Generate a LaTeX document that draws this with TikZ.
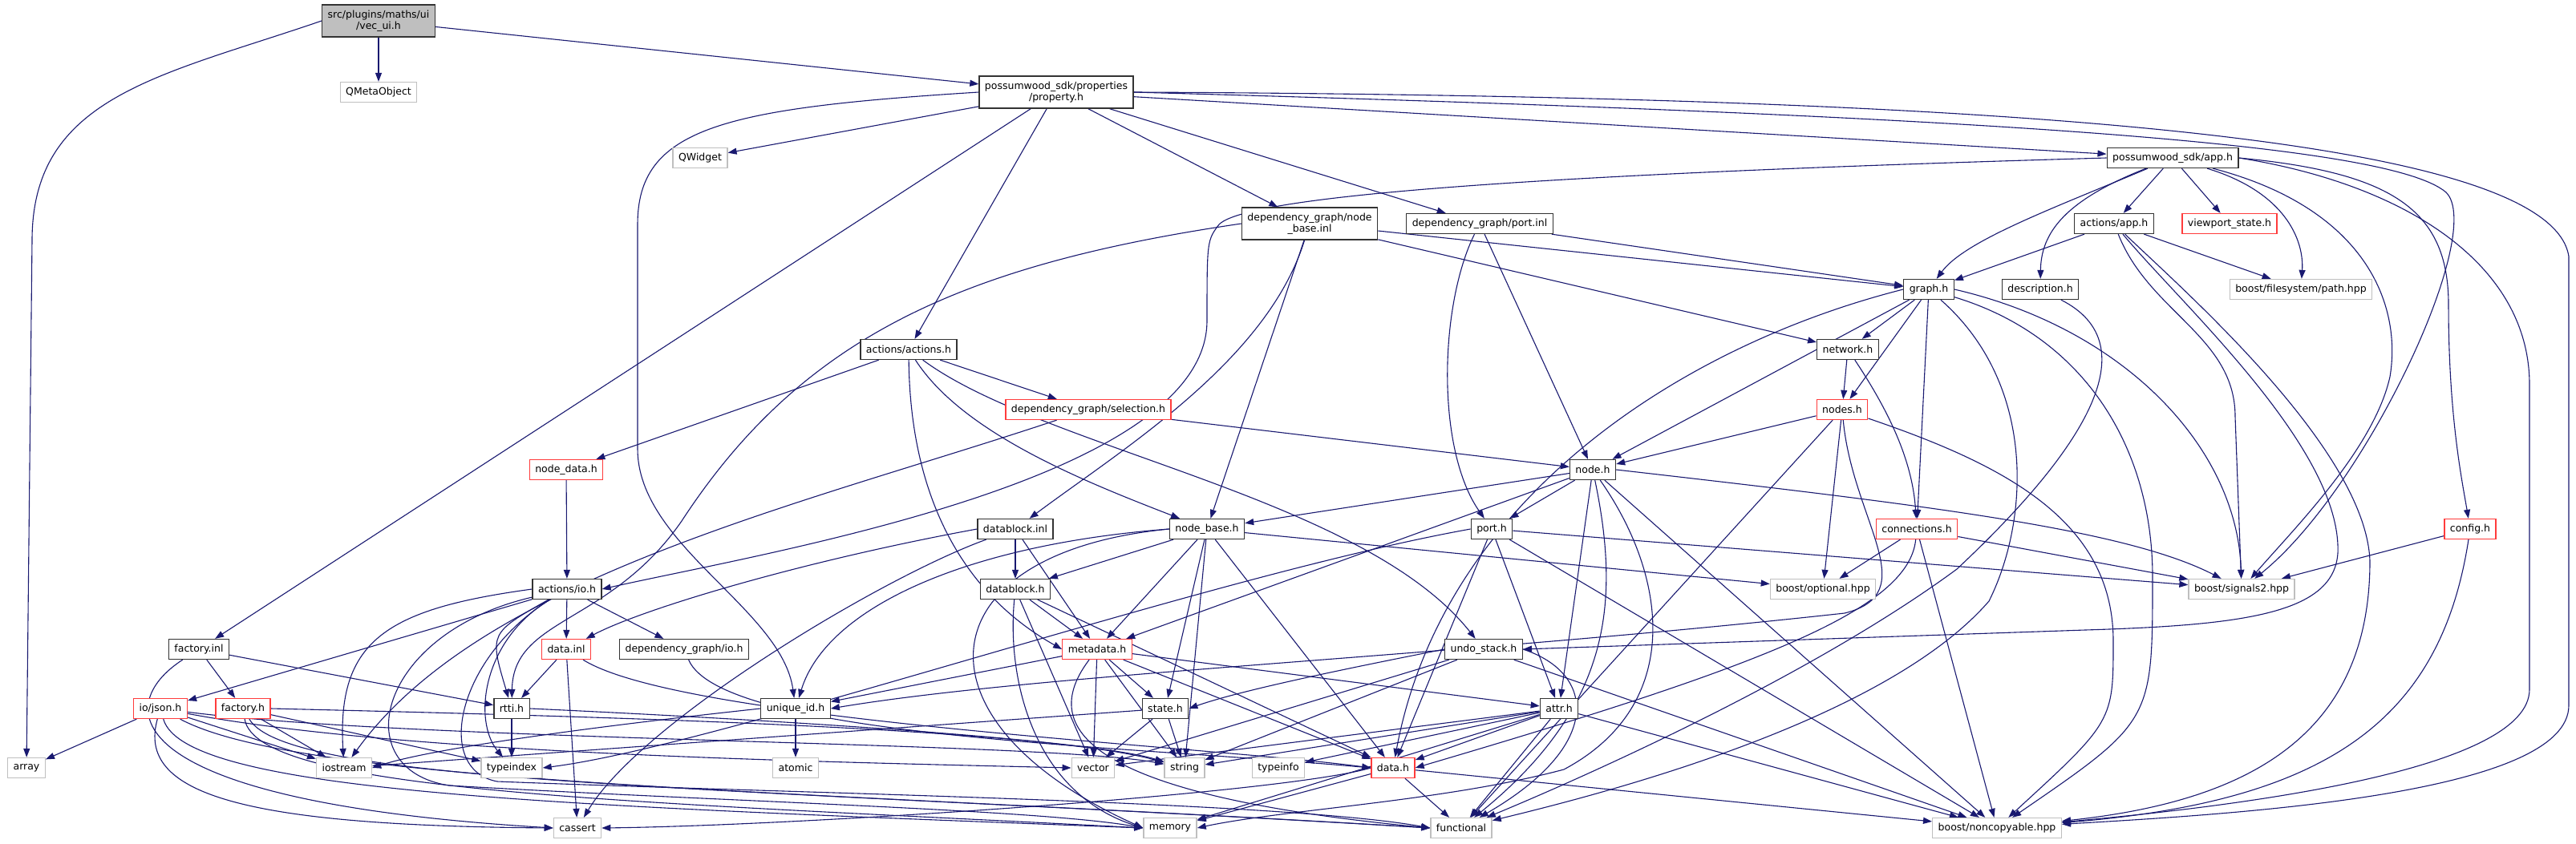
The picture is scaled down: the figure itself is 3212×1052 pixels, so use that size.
\documentclass[tikz,border=0pt]{standalone}
\usepackage{fontspec}
\setmainfont{DejaVu Sans}
\usetikzlibrary{arrows.meta}
\definecolor{edgeblue}{RGB}{25,25,112}
\definecolor{boxgray}{RGB}{191,191,191}
\definecolor{boxred}{RGB}{255,60,60}
\newcommand\graphfont{\fontsize{12.5pt}{14pt}\selectfont}
\pgfdeclarelayer{edges}
\pgfsetlayers{edges,main}
\tikzset{
  hdr/.style={draw=black!80,line width=1.3pt,fill=white,minimum height=25pt,inner xsep=7pt,inner ysep=3pt,font=\graphfont,align=center},
  sys/.style={hdr,draw=boxgray},
  miss/.style={hdr,draw=boxred},
  root/.style={hdr,fill=boxgray,minimum height=40pt},
  inc/.style={draw=edgeblue,line width=1.1pt,-{Triangle[length=11pt,width=8pt]}}
}

\begin{document}
\begin{tikzpicture}[x=1pt,y=-1pt]
\useasboundingbox (0,0) rectangle (3212,1052);
% files
\node[root] (vecui) at (472,26) {src/plugins/maths/ui\\/vec\_ui.h};
\node[sys] (qmeta) at (472,115) {QMetaObject};
\node[hdr,minimum height=40pt] (property) at (1317,115) {possumwood\_sdk/properties\\/property.h};
\node[sys] (qwidget) at (873,197) {QWidget};
\node[hdr] (apph) at (2709,197) {possumwood\_sdk/app.h};
\node[hdr,minimum height=40pt] (nbinl) at (1633,279) {dependency\_graph/node\\\_base.inl};
\node[hdr] (portinl) at (1845,279) {dependency\_graph/port.inl};
\node[hdr] (actapp) at (2636,279) {actions/app.h};
\node[miss] (viewport) at (2780,279) {viewport\_state.h};
\node[hdr] (graph) at (2405,361) {graph.h};
\node[hdr] (descr) at (2544,361) {description.h};
\node[sys] (fspath) at (2869,361) {boost/filesystem/path.hpp};
\node[hdr] (actions) at (1133,436) {actions/actions.h};
\node[hdr] (network) at (2304,436) {network.h};
\node[miss] (selection) at (1357,511) {dependency\_graph/selection.h};
\node[miss] (nodes) at (2297,511) {nodes.h};
\node[miss] (nodedata) at (706,586) {node\_data.h};
\node[hdr] (node) at (1986,586) {node.h};
\node[hdr] (dbinl) at (1266,660) {datablock.inl};
\node[hdr] (nodebase) at (1505,660) {node\_base.h};
\node[hdr] (porth) at (1860,660) {port.h};
\node[miss] (connections) at (2390,660) {connections.h};
\node[miss] (config) at (3080,660) {config.h};
\node[hdr] (actio) at (707,735) {actions/io.h};
\node[hdr] (dblock) at (1266,735) {datablock.h};
\node[sys] (optional) at (2273,735) {boost/optional.hpp};
\node[sys] (signals) at (2795,735) {boost/signals2.hpp};
\node[hdr] (factinl) at (248,810) {factory.inl};
\node[miss] (datainl) at (706,810) {data.inl};
\node[hdr] (dgio) at (853,810) {dependency\_graph/io.h};
\node[miss] (metadata) at (1368,810) {metadata.h};
\node[hdr] (undo) at (1850,810) {undo\_stack.h};
\node[miss] (json) at (200,884) {io/json.h};
\node[miss] (facth) at (303,884) {factory.h};
\node[hdr] (rtti) at (638,884) {rtti.h};
\node[hdr] (uid) at (992,884) {unique\_id.h};
\node[hdr] (state) at (1453,884) {state.h};
\node[hdr] (attr) at (1944,884) {attr.h};
\node[sys] (array) at (33,958) {array};
\node[sys] (iostream) at (429,958) {iostream};
\node[sys] (typeindex) at (638,958) {typeindex};
\node[sys] (atomic) at (992,958) {atomic};
\node[sys] (vector) at (1363,958) {vector};
\node[sys] (string) at (1477,958) {string};
\node[sys] (typeinfo) at (1594,958) {typeinfo};
\node[miss] (datah) at (1737,958) {data.h};
\node[sys] (cassert) at (720,1033) {cassert};
\node[sys] (memory) at (1459,1033) {memory};
\node[sys] (functional) at (1822,1033) {functional};
\node[sys] (noncopy) at (2490,1033) {boost/noncopyable.hpp};

\begin{pgfonlayer}{edges}
% vec_ui.h
\draw[inc] (vecui.west) .. controls (200,95) and (40,120) .. (40,300) -- (array);
\draw[inc] (vecui) -- (qmeta);
\draw[inc] (vecui) -- (property);
% property.h
\draw[inc] (property) -- (qwidget);
\draw[inc] (property) -- (factinl);
\draw[inc] (property.west) .. controls (900,135) and (795,160) .. (795,280) -- (795,560) .. controls (795,680) and (975,760) .. (uid);
\draw[inc] (property) -- (actions);
\draw[inc] (property) -- (nbinl);
\draw[inc] (property) -- (portinl);
\draw[inc] (property) -- (apph);
\draw[inc] (property.east) .. controls (2500,145) and (2980,180) .. (3050,240) .. controls (3100,290) and (2950,610) .. (signals);
\draw[inc] (property.east) .. controls (2500,120) and (3180,170) .. (3203,320) -- (3203,880) .. controls (3203,990) and (2800,1015) .. (noncopy);
% app.h
\draw[inc] (apph.west) .. controls (2000,215) and (1560,240) .. (1520,280) .. controls (1505,300) .. (1505,400) .. controls (1505,600) and (950,690) .. (actio.east);
\draw[inc] (apph) .. controls (2560,260) and (2450,300) .. (graph);
\draw[inc] (apph) .. controls (2575,250) and (2545,290) .. (descr);
\draw[inc] (apph) -- (actapp);
\draw[inc] (apph) -- (viewport);
\draw[inc] (apph) .. controls (2850,240) and (2873,300) .. (fspath);
\draw[inc] (apph) .. controls (2950,260) and (2995,380) .. (2980,470) .. controls (2960,560) and (2860,660) .. (signals);
\draw[inc] (apph.east) .. controls (2980,215) and (3053,260) .. (3053,380) .. controls (3053,520) and (3070,600) .. (config);
\draw[inc] (apph.east) .. controls (3000,230) and (3154,330) .. (3154,480) -- (3154,860) .. controls (3154,960) and (2800,1005) .. (noncopy);
% actions/app.h
\draw[inc] (actapp) -- (graph);
\draw[inc] (actapp) -- (fspath);
\draw[inc] (actapp) .. controls (2680,390) and (2787,420) .. (2787,520) -- (signals);
\draw[inc] (actapp) .. controls (2720,380) and (2920,560) .. (2915,690) .. controls (2910,765) and (2800,780) .. (2600,786) -- (undo.east);
\draw[inc] (actapp) .. controls (2720,360) and (2950,560) .. (2955,700) .. controls (2955,920) and (2800,1000) .. (noncopy);
% node_base.inl, port.inl
\draw[inc] (nbinl.west) .. controls (1200,330) and (1000,420) .. (850,650) .. controls (760,780) and (640,770) .. (rtti);
\draw[inc] (nbinl) .. controls (1580,450) and (1400,560) .. (dbinl);
\draw[inc] (nbinl) -- (nodebase);
\draw[inc] (nbinl) -- (graph);
\draw[inc] (nbinl) -- (network);
\draw[inc] (portinl) -- (graph);
\draw[inc] (portinl) .. controls (1795,380) and (1790,560) .. (porth);
\draw[inc] (portinl) -- (node);
% graph.h
\draw[inc] (graph) -- (node);
\draw[inc] (graph) -- (network);
\draw[inc] (graph) -- (nodes);
\draw[inc] (graph) -- (connections);
\draw[inc] (graph.east) .. controls (2650,410) and (2790,560) .. (signals);
\draw[inc] (graph) .. controls (2600,420) and (2684,560) .. (2684,720) .. controls (2684,900) .. (noncopy);
\draw[inc] (graph) .. controls (2540,480) and (2530,650) .. (2480,750) .. controls (2350,900) and (2000,990) .. (functional);
\draw[inc] (graph.west) .. controls (2100,430) and (1800,620) .. (datah);
\draw[inc] (descr) .. controls (2680,430) and (2600,560) .. (2440,710) .. controls (2250,850) and (1950,980) .. (functional);
% network.h, nodes.h
\draw[inc] (network) -- (nodes);
\draw[inc] (network) .. controls (2360,520) and (2385,580) .. (connections);
\draw[inc] (nodes) -- (node);
\draw[inc] (nodes) -- (optional);
\draw[inc] (nodes) -- (functional);
\draw[inc] (nodes) .. controls (2310,650) and (2400,740) .. (2300,765) .. controls (1800,820) and (1300,840) .. (uid.east);
\draw[inc] (nodes) .. controls (2500,580) and (2635,650) .. (2635,800) .. controls (2635,900) .. (noncopy);
% node.h
\draw[inc] (node) -- (porth);
\draw[inc] (node) -- (attr);
\draw[inc] (node) -- (nodebase);
\draw[inc] (node) -- (metadata);
\draw[inc] (node.east) .. controls (2400,630) and (2650,660) .. (signals);
\draw[inc] (node) .. controls (2020,750) and (2010,880) .. (functional);
\draw[inc] (node) .. controls (2080,720) and (2100,880) .. (1950,960) .. controls (1800,1000) and (1600,1010) .. (memory.east);
\draw[inc] (node) -- (noncopy);
% connections.h, config.h
\draw[inc] (connections) -- (optional);
\draw[inc] (connections) -- (signals);
\draw[inc] (connections) -- (noncopy);
\draw[inc] (connections) .. controls (2380,760) and (2200,830) .. (datah.east);
\draw[inc] (config) -- (signals);
\draw[inc] (config) .. controls (3043,900) and (2900,1000) .. (noncopy);
% actions/actions.h
\draw[inc] (actions) -- (selection);
\draw[inc] (actions) -- (nodedata);
\draw[inc] (actions) .. controls (1200,540) and (1350,600) .. (nodebase);
\draw[inc] (actions) .. controls (1300,560) and (1700,620) .. (undo);
\draw[inc] (actions) .. controls (1135,620) and (1200,740) .. (metadata.west);
\draw[inc] (selection) -- (node);
\draw[inc] (selection) .. controls (1000,630) and (600,720) .. (iostream);
\draw[inc] (nodedata) -- (actio);
% actions/io.h
\draw[inc] (actio) -- (json);
\draw[inc] (actio) -- (datainl);
\draw[inc] (actio) .. controls (610,790) .. (rtti);
\draw[inc] (actio) -- (dgio);
\draw[inc] (actio.west) .. controls (480,760) and (420,800) .. (iostream);
\draw[inc] (actio) .. controls (600,800) and (590,900) .. (typeindex);
\draw[inc] (actio) .. controls (470,790) and (430,960) .. (560,980) .. controls (900,1000) and (1300,1010) .. (memory.west);
\draw[inc] (actio) .. controls (570,820) and (540,960) .. (620,975) .. controls (1000,990) and (1600,1000) .. (functional.west);
% factory.inl, io/json.h, factory.h
\draw[inc] (factinl) -- (facth);
\draw[inc] (factinl) -- (rtti);
\draw[inc] (factinl) .. controls (140,880) and (140,1000) .. (cassert.west);
\draw[inc] (json) -- (array);
\draw[inc] (json) -- (iostream);
\draw[inc] (json) .. controls (170,990) and (300,1030) .. (cassert.west);
\draw[inc] (json) .. controls (230,990) and (700,1005) .. (memory.west);
\draw[inc] (json) .. controls (380,980) and (1000,985) .. (functional.west);
\draw[inc] (json) .. controls (520,925) and (1300,925) .. (string);
\draw[inc] (json) .. controls (500,940) and (1000,950) .. (vector.west);
\draw[inc] (facth) -- (iostream);
\draw[inc] (facth) -- (typeindex);
\draw[inc] (facth.east) .. controls (800,895) and (1300,910) .. (string);
\draw[inc] (facth) .. controls (320,990) and (800,1000) .. (memory.west);
\draw[inc] (facth) .. controls (360,980) and (900,980) .. (functional.west);
% data.inl, dependency_graph/io.h, rtti.h, unique_id.h
\draw[inc] (datainl) -- (rtti);
\draw[inc] (datainl) -- (cassert);
\draw[inc] (datainl) .. controls (850,900) and (1500,930) .. (datah.west);
\draw[inc] (dgio) .. controls (900,920) and (1400,930) .. (datah.west);
\draw[inc] (rtti) -- (typeindex);
\draw[inc] (rtti.east) .. controls (900,895) and (1350,920) .. (string);
\draw[inc] (uid) -- (atomic);
\draw[inc] (uid.west) .. controls (800,900) and (550,930) .. (iostream.east);
% datablock.inl, datablock.h
\draw[inc] (dbinl) -- (dblock);
\draw[inc] (dbinl) -- (metadata);
\draw[inc] (dbinl.west) .. controls (1000,700) and (800,760) .. (datainl);
\draw[inc] (dbinl) .. controls (1100,720) and (800,900) .. (cassert);
\draw[inc] (dblock) -- (metadata);
\draw[inc] (dblock) -- (vector);
\draw[inc] (dblock) .. controls (1255,850) and (1290,990) .. (memory.west);
\draw[inc] (dblock) -- (datah);
% node_base.h
\draw[inc] (nodebase.west) .. controls (1200,680) and (1030,760) .. (uid);
\draw[inc] (nodebase.west) .. controls (1150,690) and (1130,900) .. (memory.west);
\draw[inc] (nodebase) -- (dblock);
\draw[inc] (nodebase) -- (metadata);
\draw[inc] (nodebase) -- (state);
\draw[inc] (nodebase) -- (string);
\draw[inc] (nodebase) -- (datah);
\draw[inc] (nodebase) -- (optional);
% metadata.h, state.h
\draw[inc] (metadata) -- (uid);
\draw[inc] (metadata) -- (state);
\draw[inc] (metadata) -- (vector);
\draw[inc] (metadata) -- (string);
\draw[inc] (metadata) .. controls (1300,900) and (1330,990) .. (functional.west);
\draw[inc] (metadata) -- (attr);
\draw[inc] (metadata) -- (datah);
\draw[inc] (state) -- (iostream);
\draw[inc] (state) -- (vector);
\draw[inc] (state) -- (string);
% undo_stack.h
\draw[inc] (undo.west) .. controls (1700,830) and (1550,860) .. (state.east);
\draw[inc] (undo) -- (vector);
\draw[inc] (undo) -- (string);
\draw[inc] (undo.east) .. controls (1990,840) and (2000,930) .. (functional);
\draw[inc] (undo) -- (noncopy);
% attr.h, data.h, port.h
\draw[inc] (attr) -- (datah);
\draw[inc] (attr) -- (typeinfo);
\draw[inc] (attr) -- (string);
\draw[inc] (attr) -- (vector);
\draw[inc] (attr) -- (memory);
\draw[inc] (attr) -- (functional);
\draw[inc] (attr) -- (noncopy);
\draw[inc] (datah) -- (functional);
\draw[inc] (datah) -- (memory);
\draw[inc] (datah) -- (noncopy);
\draw[inc] (datah.west) .. controls (1600,990) and (1000,1030) .. (cassert.east);
\draw[inc] (porth) -- (attr);
\draw[inc] (porth) -- (datah);
\draw[inc] (porth) -- (signals);
\draw[inc] (porth) -- (noncopy);
\draw[inc] (porth.west) .. controls (1500,720) and (900,930) .. (typeindex.east);
\end{pgfonlayer}
\end{tikzpicture}
\end{document}
